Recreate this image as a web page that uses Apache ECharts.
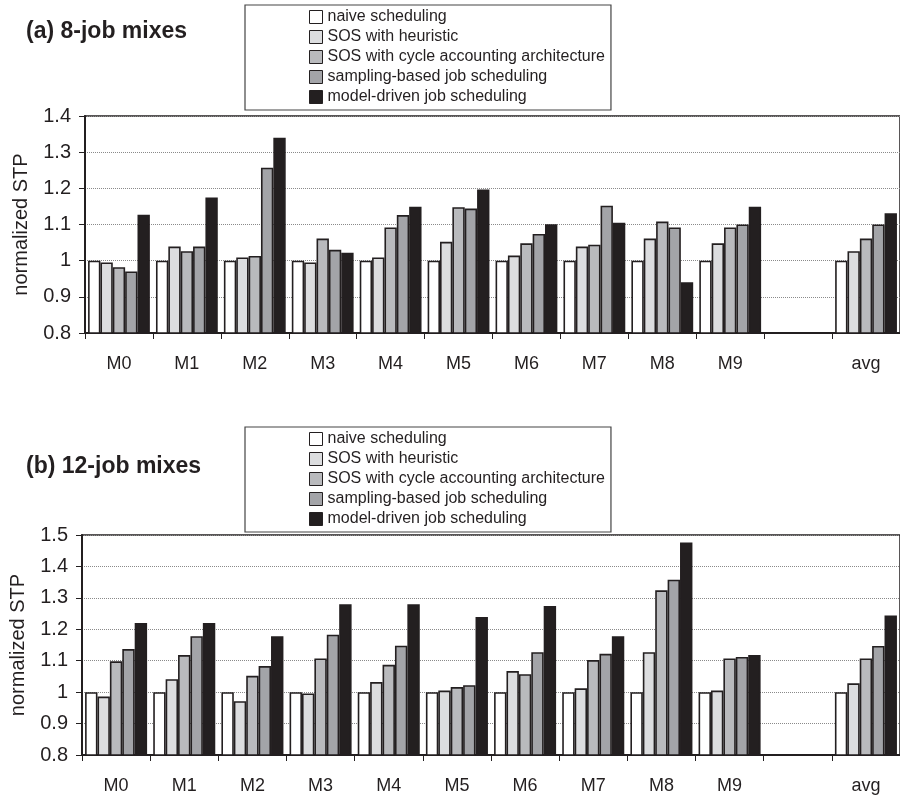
<!DOCTYPE html>
<html><head><meta charset="utf-8">
<script src="https://cdn.jsdelivr.net/npm/echarts@6/dist/echarts.min.js"></script>
<style>html,body{margin:0;padding:0;background:#fff}#c{width:900px;height:800px}</style>
</head><body><div id="c"></div>
<script>
const categories = ['M0','M1','M2','M3','M4','M5','M6','M7','M8','M9','','avg'];
const seriesNames = ['naive scheduling','SOS with heuristic','SOS with cycle accounting architecture','sampling-based job scheduling','model-driven job scheduling'];
const yTicks = ['0.8','0.9','1','1.1','1.2','1.3','1.4','1.5'];

// (a) 8-job mixes
const a_naive    = [1.0,1.0,1.0,1.0,1.0,1.0,1.0,1.0,1.0,1.0,null,1.0];
const a_heur     = [0.995,1.039,1.009,0.995,1.009,1.052,1.014,1.039,1.061,1.048,null,1.026];
const a_cycle    = [0.982,1.026,1.013,1.061,1.092,1.148,1.048,1.044,1.108,1.092,null,1.061];
const a_sampling = [0.970,1.039,1.257,1.030,1.126,1.144,1.074,1.152,1.092,1.100,null,1.100];
const a_model    = [1.127,1.175,1.340,1.022,1.149,1.197,1.101,1.105,0.940,1.149,null,1.131];

// (b) 12-job mixes
const b_naive    = [1.0,1.0,1.0,1.0,1.0,1.0,1.0,1.0,1.0,1.0,null,1.0];
const b_heur     = [0.986,1.041,0.971,0.996,1.032,1.005,1.067,1.012,1.127,1.005,null,1.028];
const b_cycle    = [1.098,1.118,1.052,1.107,1.087,1.016,1.057,1.102,1.324,1.107,null,1.107];
const b_sampling = [1.137,1.178,1.083,1.183,1.148,1.022,1.127,1.122,1.358,1.112,null,1.147];
const b_model    = [1.220,1.220,1.178,1.280,1.280,1.239,1.274,1.178,1.476,1.118,null,1.244];

const colors = ['#ffffff','#dcdddf','#b9babd','#a3a4a8','#231f20'];
const ink = '#231f20';
const font = 'Liberation Sans, Arial, Helvetica, sans-serif';

const chart = echarts.init(document.getElementById('c'), null, {renderer:'canvas'});

function xAx(gi){
  return {type:'category', gridIndex:gi, data:categories,
    axisLine:{lineStyle:{color:ink,width:2}},
    axisTick:{show:true,alignWithLabel:false,length:6,lineStyle:{color:ink,width:1}},
    axisLabel:{color:ink,fontSize:18,fontFamily:font,margin:22,interval:0},
    splitLine:{show:false}};
}
function yAx(gi,max){
  return {type:'value', gridIndex:gi, min:0.8, max:max, interval:0.1,
    name:'normalized STP', nameLocation:'middle', nameRotate:90, nameGap:54,
    nameTextStyle:{color:ink,fontSize:20,fontFamily:font},
    axisLine:{show:true,lineStyle:{color:ink,width:2}},
    axisTick:{show:true,length:6,lineStyle:{color:ink,width:1}},
    axisLabel:{color:ink,fontSize:20,fontFamily:font,margin:14,
      formatter:function(v){ const s = yTicks.find(t=>Math.abs(parseFloat(t)-v)<1e-6); return s!==undefined?s:v; }},
    splitLine:{show:true,lineStyle:{color:'#8a8a8a',type:'dotted',width:1}}};
}
function legend(top){
  return {data:seriesNames, orient:'vertical', left:245, top:top,
    itemWidth:13, itemHeight:13, itemGap:4, icon:'rect',
    padding:[4,6,5,64], borderColor:'#444', borderWidth:1.2,
    textStyle:{color:ink,fontSize:16,fontFamily:font},
    itemStyle:{borderColor:ink,borderWidth:1}};
}
const groups = [[a_naive,a_heur,a_cycle,a_sampling,a_model],[b_naive,b_heur,b_cycle,b_sampling,b_model]];
const series = [];
groups.forEach((g,gi)=>{
  g.forEach((d,i)=>{
    series.push({type:'bar', name:seriesNames[i], xAxisIndex:gi, yAxisIndex:gi, data:d,
      barGap:'0%', barCategoryGap:'9%',
      itemStyle:{color:colors[i], borderColor:ink, borderWidth:1.6},
      emphasis:{disabled:true}, animation:false});
  });
});

chart.setOption({
  animation:false,
  backgroundColor:'#fff',
  title:[
    {text:'(a) 8-job mixes', left:21, top:15, textStyle:{color:ink,fontSize:23,fontWeight:'bold',fontFamily:font}},
    {text:'(b) 12-job mixes', left:21, top:450, textStyle:{color:ink,fontSize:23,fontWeight:'bold',fontFamily:font}}
  ],
  legend:[legend(5), legend(427)],
  grid:[
    {left:85, top:116, width:816, height:217, show:true, borderColor:ink, borderWidth:1.5, backgroundColor:'transparent'},
    {left:80, top:535, width:826, height:220, show:true, borderColor:ink, borderWidth:1.5, backgroundColor:'transparent'}
  ],
  xAxis:[xAx(0), xAx(1)],
  yAxis:[yAx(0,1.4), yAx(1,1.5)],
  series:series
});
</script></body></html>
